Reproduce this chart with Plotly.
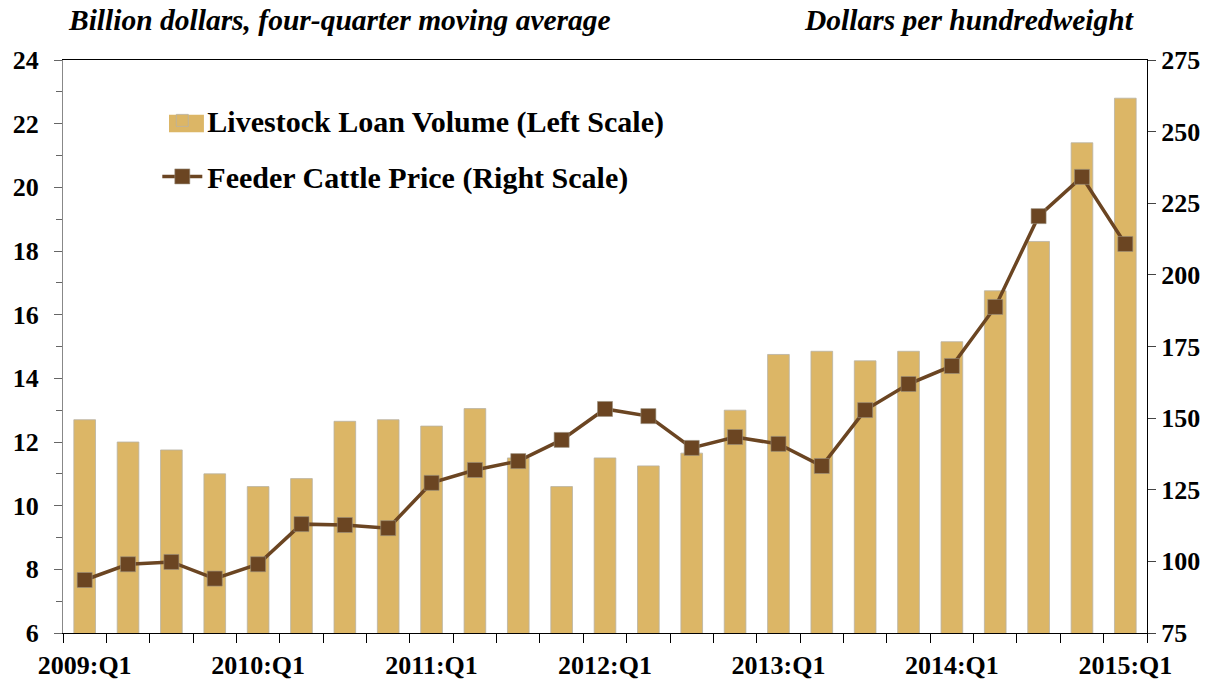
import plotly.graph_objects as go

quarters = [f"{y}:Q{q}" for y in range(2009, 2016) for q in range(1, 5)][:25]
loan_volume = [12.7, 12.0, 11.75, 11.0, 10.6, 10.85, 12.65, 12.7, 12.5, 13.05,
               11.5, 10.6, 11.5, 11.25, 11.65, 13.0, 14.75, 14.85, 14.55, 14.85,
               15.15, 16.75, 18.3, 21.4, 22.8]
cattle_price = [93.5, 99.0, 99.8, 94.0, 99.0, 113.0, 112.7, 111.6, 127.4, 131.9,
                135.0, 142.4, 153.2, 150.7, 139.6, 143.4, 141.0, 133.3, 152.8, 161.9,
                168.2, 188.8, 220.5, 234.2, 210.8]
tick_labels = [q if q.endswith("Q1") else "" for q in quarters]

FONT = "Liberation Serif"
BAR = "#DCB666"
LINE = "#6B4522"

fig = go.Figure()
fig.add_trace(go.Bar(
    x=quarters, y=loan_volume, name="Livestock Loan Volume (Left Scale)",
    marker=dict(color=BAR, line=dict(color="#b8b2a4", width=0.8)),
    yaxis="y", legendgroup="a",
))
fig.add_trace(go.Scatter(
    x=quarters, y=cattle_price, name="Feeder Cattle Price (Right Scale)",
    mode="lines+markers", line=dict(color=LINE, width=3.5),
    marker=dict(symbol="square", size=15, color=LINE,
                line=dict(color="#9a9080", width=0.6)),
    yaxis="y2", legendgroup="b",
))

fig.update_layout(
    width=1224, height=685,
    margin=dict(l=63, r=77, t=60, b=52),
    paper_bgcolor="white", plot_bgcolor="white",
    font=dict(family=FONT, color="black", size=26),
    bargap=0.5,
    showlegend=True,
    legend=dict(x=0.087, y=0.94, xanchor="left", yanchor="top",
                bgcolor="rgba(0,0,0,0)", traceorder="grouped", tracegroupgap=14,
                font=dict(family=FONT, size=30, color="black", weight="bold"),
                itemwidth=40),
    xaxis=dict(
        type="category", tickmode="array", tickvals=quarters, ticktext=tick_labels,
        range=[-0.5, 24.5], automargin=False,
        tickson="boundaries", ticks="outside", ticklen=9, tickcolor="black",
        showline=True, linecolor="black", linewidth=1.2, mirror=True,
        showgrid=False, tickangle=0, ticklabelstandoff=9,
        tickfont=dict(family=FONT, size=26, weight="bold"),
    ),
    yaxis=dict(
        range=[6, 24], dtick=2, tick0=6, ticks="outside", ticklen=8, tickcolor="#666",
        showline=True, linecolor="#888", linewidth=1, showgrid=False, zeroline=False,
        automargin=False, ticklabelstandoff=10,
        minor=dict(dtick=1, ticks="outside", ticklen=6, tickcolor="#666"),
        tickfont=dict(family=FONT, size=26, weight="bold"),
    ),
    yaxis2=dict(
        range=[75, 275], dtick=25, tick0=75, overlaying="y", side="right",
        ticks="outside", ticklen=8, tickcolor="#444", automargin=False,
        showline=True, linecolor="black", linewidth=1.2, showgrid=False, zeroline=False,
        tickfont=dict(family=FONT, size=26, weight="bold"),
    ),
    shapes=[
        dict(type="rect", xref="paper", yref="paper",
             x0=0.0978, x1=0.130, y0=0.874, y1=0.9045,
             fillcolor=BAR, line=dict(width=0), layer="above"),
    ],
    annotations=[
        dict(text="<b><i>Billion dollars, four-quarter moving average</i></b>",
             xref="paper", yref="paper", x=0.003, y=1.0, yshift=40,
             xanchor="left", yanchor="middle", showarrow=False,
             font=dict(family=FONT, size=29.5, color="black")),
        dict(text="<b><i>Dollars per hundredweight</i></b>",
             xref="paper", yref="paper", x=0.99, y=1.0, yshift=40,
             xanchor="right", yanchor="middle", showarrow=False,
             font=dict(family=FONT, size=29.5, color="black")),
    ],
)

fig.write_html("out.html", config={"displayModeBar": False},
               post_script="document.body.style.margin='0';")
